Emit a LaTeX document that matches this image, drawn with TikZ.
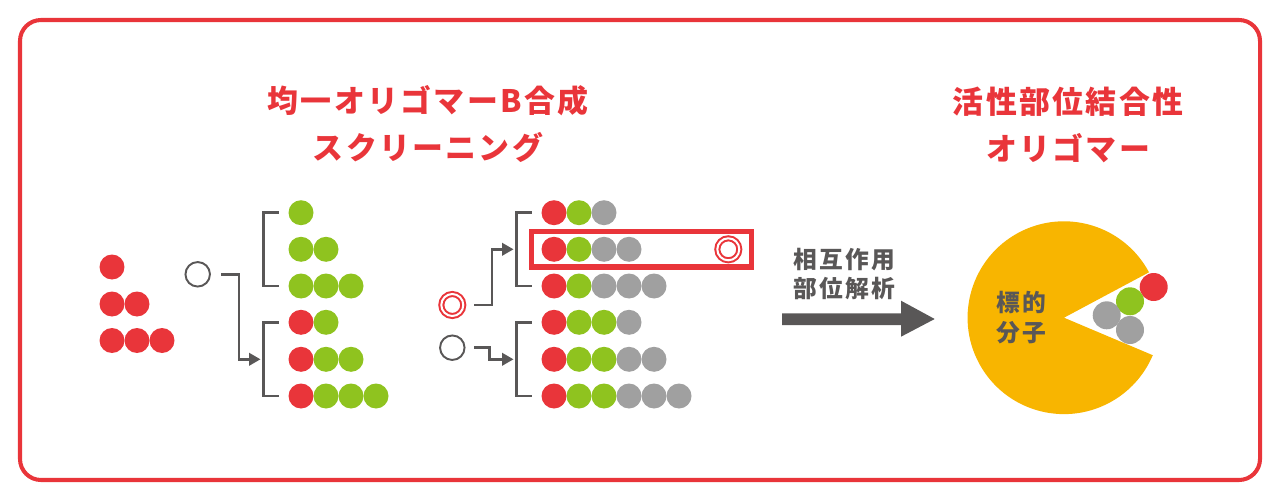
\documentclass[tikz,border=0pt]{standalone}
\usepackage{fontspec}
\newfontfamily\titlefont[LetterSpace=7.5]{Noto Sans CJK JP}
\newfontfamily\labelfont[LetterSpace=10]{Noto Sans CJK JP}
\usetikzlibrary{arrows.meta}
\definecolor{hongdo}{HTML}{E9353A}
\definecolor{xanh}{HTML}{8FC31F}
\definecolor{xam}{HTML}{A0A0A0}
\definecolor{dam}{HTML}{595757}
\definecolor{cam}{HTML}{F8B500}
\tikzset{
    ball/.style={circle,inner sep=0pt,minimum size=0.5cm},
    r/.style={ball,fill=hongdo},
    g/.style={ball,fill=xanh},
    k/.style={ball,fill=xam},
    open/.style={circle,draw=dam,line width=1.1pt,inner sep=0pt,minimum size=0.49cm},
    hit/.style={circle,draw=hongdo,line width=1.15pt,double=white,double distance=1.15pt,inner sep=0pt,minimum size=0.44cm},
    tiep/.style={draw=dam,line width=1.4pt},
    link/.style={tiep,-{Triangle[length=0.23cm,width=0.25cm]},shorten <=0.44cm},
    title/.style={hongdo,font=\titlefont\bfseries\fontsize{17.6}{17.6}\selectfont},
    nhan/.style={dam,font=\labelfont\bfseries\fontsize{13.5}{13.5}\selectfont}
}
\begin{document}
\begin{tikzpicture}[x=0.02cm,y=-0.02cm]
    \useasboundingbox (0,0) rectangle (1280,500);
    \draw[hongdo,line width=2.3pt,rounded corners=0.42cm] (20,20) rectangle (1260,480);
    % tieu de
    \node[title] (t1) at (428,101) {均一オリゴマーB合成};
    \node[title] (t2) at (428,147) {スクリーニング};
    \node[title] (t3) at (1068,102) {活性部位結合性};
    \node[title] (t4) at (1068,148) {オリゴマー};
    % cot do
    \foreach \x/\y/\s/\n in {112/267/r/m1,112/304/r/m2,137/304/r/m3,112/340.5/r/m4,137/340.5/r/m5,162/340.5/r/m6}
        \node[\s] (\n) at (\x,\y) {};
    % hai cot hang
    \foreach \y/\l [count=\j] in {212.7/{g},249.3/{g,g},286/{g,g,g},322.3/{r,g},359.3/{r,g,g},396/{r,g,g,g}}{
        \foreach \s [count=\i] in \l
            \node[\s] (a\j\i) at (301+25*\i-25,\y) {};
    }
    \foreach \y/\l [count=\j] in {212.7/{r,g,k},249.3/{r,g,k,k},286/{r,g,k,k,k},322.3/{r,g,g,k},359.3/{r,g,g,k,k},396/{r,g,g,k,k,k}}{
        \foreach \s [count=\i] in \l
            \node[\s] (b\j\i) at (554+25*\i-25,\y) {};
    }
    % ngoac
    \foreach \x/\a/\b/\n in {263.5/212.7/286/p,263.5/322.3/396/q,516.5/212.7/286/u,516.5/322.3/396/v}{
        \coordinate (\n1) at (\x+15,\a);
        \coordinate (\n2) at (\x,\a);
        \coordinate (\n3) at (\x,\b);
        \coordinate (\n4) at (\x+15,\b);
        \draw[tiep] (\n1)--(\n2)--(\n3)--(\n4);
    }
    % vong tron va mui ten
    \node[open] (o1) at (197.7,274.3) {};
    \node[hit] (h1) at (452.3,305) {};
    \node[open] (o2) at (452.3,347.7) {};
    \coordinate (q0) at (260.5,359.3);
    \coordinate (u0) at (513.5,249.3);
    \coordinate (v0) at (513.5,359.3);
    \draw[link,shorten <=0.47cm] (o1.center)--(239,274.3)--(239,359.3)--(q0);
    \draw[link] (h1.center)--(492,305)--(492,249.3)--(u0);
    \draw[link] (o2.center)--(489.7,347.7)--(489.7,359.3)--(v0);
    % khung do
    \draw[hongdo,line width=2.85pt] (531.6,231.6) rectangle (751.8,267);
    \node[hit] (h2) at (728.3,249.3) {};
    % mui ten lon
    \node[nhan] (n1) at (844,260) {相互作用};
    \node[nhan] (n2) at (844,288) {部位解析};
    \fill[dam] (782,313.3)--(901,313.3)--(901,300.7)--(934.7,319)--(901,336.7)--(901,325)--(782,325)--cycle;
    % phan tu dich
    \fill[cam] (1064,317.7)--(1149,272.3) arc[start angle=-28.1,end angle=-337.1,radius=96.4]--cycle;
    \node[nhan] (n3) at (1021,302) {標的};
    \node[nhan] (n4) at (1021,333) {分子};
    \foreach \x/\y/\s/\n in {1153.7/287/r/d1,1130/301.3/g/d2,1106.7/315.3/k/d3,1130/330/k/d4}
        \node[\s,minimum size=0.56cm] (\n) at (\x,\y) {};
\end{tikzpicture}
\end{document}
